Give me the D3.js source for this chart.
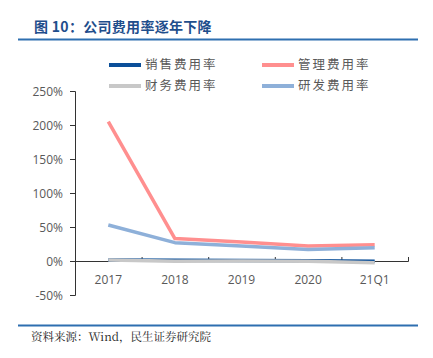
<!DOCTYPE html>
<html><head><meta charset="utf-8">
<script src="https://cdn.jsdelivr.net/npm/d3@7"></script>
<style>
html,body{margin:0;padding:0;background:#fff;}
svg{display:block;}
</style></head>
<body>
<script>
const categories = ["2017","2018","2019","2020","21Q1"];
const sales   = [1.5, 1.0, 0.8, 0.5, -0.3];
const admin   = [205, 33, 28, 22, 24];
const finance = [1.5, -0.5, 0.0, -0.5, -2.5];
const rnd     = [53, 27, 22, 17, 19.5];
const yTicks  = [-50, 0, 50, 100, 150, 200, 250];
const seriesNames = ["销售费用率","管理费用率","财务费用率","研发费用率"];
const seriesColors = ["#0b4f99","#ff8f8f","#c8c8c8","#8eb0d9"];

const W = 433, H = 358;
const svg = d3.select("body").append("svg").attr("width", W).attr("height", H);

const cjk = "'Noto Sans CJK SC', sans-serif";
const serifCjk = "'Noto Serif CJK SC','Noto Sans CJK SC', serif";

// Title
svg.append("text").attr("x", 34).attr("y", 32)
  .attr("font-family", cjk).attr("font-weight", "bold").attr("font-size", 14)
  .attr("letter-spacing", 0.3)
  .attr("fill", "#1f4e8c").text("图 10：公司费用率逐年下降");
svg.append("line").attr("x1", 18).attr("x2", 418).attr("y1", 39.5).attr("y2", 39.5)
  .attr("stroke", "#2e6fb0").attr("stroke-width", 2);

// Scales
const x = d3.scaleBand().domain(categories).range([75, 408]).padding(0);
const y = d3.scaleLinear().domain([-50, 250]).range([295, 91]);

// Y axis
const yAxis = d3.axisLeft(y).tickValues(yTicks).tickSize(5).tickFormat(d => d + "%");
const gy = svg.append("g").attr("transform", "translate(75,0)").call(yAxis);
gy.select(".domain").attr("stroke", "#333").attr("d", "M-5,91.5H0.5V295.5H-5");
gy.selectAll(".tick line").attr("stroke", "#333");
gy.selectAll(".tick text").attr("font-family", "'Open Sans', 'DejaVu Sans', sans-serif")
  .attr("font-size", 12).attr("fill", "#595959").attr("x", -12).attr("dy", "0.35em");

// X axis at 0
const xAxis = d3.axisBottom(x).tickSize(0).tickFormat(d => d);
const gx = svg.append("g").attr("transform", `translate(0,${y(0)})`).call(xAxis);
gx.select(".domain").attr("stroke", "#333").attr("d", "M75,0.5H408.5");
gx.selectAll(".tick text").attr("font-family", "'Open Sans', 'DejaVu Sans', sans-serif")
  .attr("font-size", 12).attr("fill", "#595959").attr("y", 14).attr("dy", "0.71em");
// band boundary tick marks (small upward)
const bounds = categories.map(c => x(c) + x.bandwidth());
svg.append("g").selectAll("line").data(bounds).join("line")
  .attr("x1", d => d + 0.5).attr("x2", d => d + 0.5)
  .attr("y1", y(0) - 4).attr("y2", y(0) + 0.5).attr("stroke", "#333");

// Lines (series order: sales, admin, finance, rnd)
const line = d3.line().x((d, i) => x(categories[i]) + x.bandwidth() / 2).y(d => y(d));
const seriesData = [sales, admin, finance, rnd];
seriesData.forEach((s, k) => {
  svg.append("path").datum(s).attr("d", line)
    .attr("fill", "none").attr("stroke", seriesColors[k]).attr("stroke-width", 3.5)
    .attr("stroke-linejoin", "round");
});

// Legend
const legPos = [[109, 65], [262, 65], [109, 86], [262, 86]];
seriesNames.forEach((n, i) => {
  const [lx, ly] = legPos[i];
  svg.append("line").attr("x1", lx).attr("x2", lx + 32).attr("y1", ly).attr("y2", ly)
    .attr("stroke", seriesColors[i]).attr("stroke-width", 4);
  svg.append("text").attr("x", lx + 36).attr("y", ly).attr("dy", "0.35em")
    .attr("font-family", cjk).attr("font-size", 12.5).attr("letter-spacing", 2)
    .attr("fill", "#595959").text(n);
});

// Footer
svg.append("line").attr("x1", 18).attr("x2", 418).attr("y1", 325.5).attr("y2", 325.5)
  .attr("stroke", "#2e6fb0").attr("stroke-width", 2);
svg.append("text").attr("x", 31).attr("y", 341)
  .attr("font-family", serifCjk).attr("font-size", 11.5).attr("fill", "#222")
  .text("资料来源：Wind，民生证券研究院");
</script>
</body></html>
